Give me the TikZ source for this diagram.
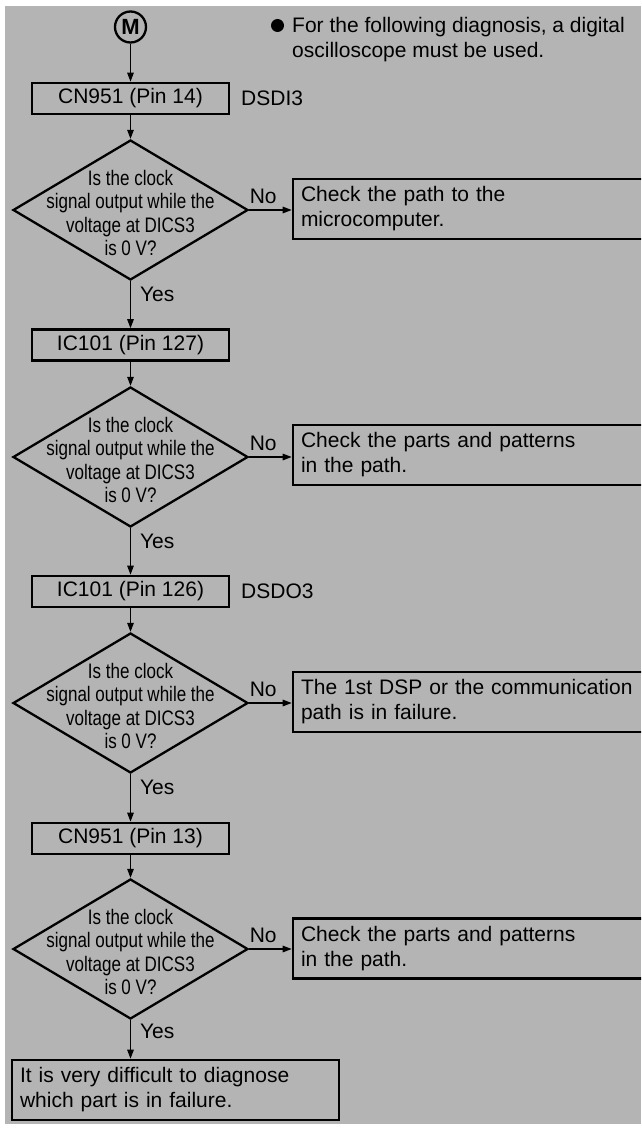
\documentclass[tikz,border=0pt]{standalone}
\usepackage{fontspec}
\setmainfont{Liberation Sans}
\newfontfamily\narrowfont[FakeStretch=0.81]{Liberation Sans}
\usetikzlibrary{shapes.geometric,arrows.meta}
\definecolor{bggray}{RGB}{180,180,180}
\begin{document}
\begin{tikzpicture}[x=1pt,y=-1pt,
  every node/.style={font=\fontsize{21}{25}\selectfont, text=black},
  box/.style={draw, line width=2.6pt, rectangle, minimum width=197pt, minimum height=31pt, inner sep=0pt},
  dia/.style={draw, line width=2.3pt, diamond, minimum width=235pt, minimum height=140pt, inner sep=0pt},
  dtext/.style={font=\fontsize{21}{23.3}\narrowfont, align=center, inner sep=0pt},
  rbox/.style={draw, line width=2.6pt, rectangle, minimum width=367pt, minimum height=60pt, text width=351pt, align=left, inner xsep=8pt, inner ysep=0pt},
  fbox/.style={draw, line width=2.6pt, rectangle, minimum width=327pt, minimum height=60pt, text width=311pt, align=left, inner xsep=8pt, inner ysep=0pt},
  arr/.style={line width=1.3pt, -{Triangle[length=9pt,width=6.5pt]}},
  lbl/.style={inner sep=0pt}
]
\useasboundingbox (0,0) rectangle (641,1129);
\fill[white] (0,0) rectangle (641,1129);
\fill[bggray] (5,6) rectangle (641,1124);
\clip (0,0) rectangle (641,1129);

% header
\node[circle, draw, line width=2.3pt, minimum size=31pt, inner sep=0pt, font=\bfseries\fontsize{22}{25}\selectfont] (m) at (130.5,27) {M};
\node[circle, fill=black, minimum size=13pt, inner sep=0pt] (bul) at (277.5,25.5) {};
\node[anchor=west, align=left, inner sep=0pt] (note) at (292,39.5) {For the following diagnosis, a digital\\oscilloscope must be used.};

% step 1
\node[box] (b1) at (130.5,98.5) {CN951 (Pin 14)};
\node[lbl, anchor=west] (s1) at (241,98.5) {DSDI3};
\node[dia] (d1) at (130.5,210) {};
\node[dtext] (t1) at (130.5,213) {Is the clock\\signal output while the\\voltage at DICS3\\is 0 V?};
\node[rbox] (r1) at (476.5,209) {Check the path to the\\microcomputer.};

% step 2
\node[box] (b2) at (130.5,345) {IC101 (Pin 127)};
\node[dia] (d2) at (130.5,457) {};
\node[dtext] (t2) at (130.5,460) {Is the clock\\signal output while the\\voltage at DICS3\\is 0 V?};
\node[rbox] (r2) at (476.5,455) {Check the parts and patterns\\in the path.};

% step 3
\node[box] (b3) at (130.5,591.5) {IC101 (Pin 126)};
\node[lbl, anchor=west] (s3) at (241,591.5) {DSDO3};
\node[dia] (d3) at (130.5,703) {};
\node[dtext] (t3) at (130.5,706) {Is the clock\\signal output while the\\voltage at DICS3\\is 0 V?};
\node[rbox] (r3) at (476.5,702) {The 1st DSP or the communication\\path is in failure.};

% step 4
\node[box] (b4) at (130.5,838.5) {CN951 (Pin 13)};
\node[dia] (d4) at (130.5,949) {};
\node[dtext] (t4) at (130.5,952) {Is the clock\\signal output while the\\voltage at DICS3\\is 0 V?};
\node[rbox] (r4) at (476.5,948.5) {Check the parts and patterns\\in the path.};

% final
\node[fbox] (f) at (175.5,1090) {It is very difficult to diagnose\\which part is in failure.};

% connectors
\draw[arr] (m) -- (b1);
\draw[arr] (b1) -- (d1);
\draw[arr] (d1.east) -- (d1.east -| r1.west) node[lbl, pos=0.33, anchor=south, yshift=6pt] {No};
\draw[arr] (d1) -- (b2) node[lbl, pos=0.28, anchor=west, xshift=9pt] {Yes};
\draw[arr] (b2) -- (d2);
\draw[arr] (d2.east) -- (d2.east -| r2.west) node[lbl, pos=0.33, anchor=south, yshift=6pt] {No};
\draw[arr] (d2) -- (b3) node[lbl, pos=0.28, anchor=west, xshift=9pt] {Yes};
\draw[arr] (b3) -- (d3);
\draw[arr] (d3.east) -- (d3.east -| r3.west) node[lbl, pos=0.33, anchor=south, yshift=6pt] {No};
\draw[arr] (d3) -- (b4) node[lbl, pos=0.28, anchor=west, xshift=9pt] {Yes};
\draw[arr] (b4) -- (d4);
\draw[arr] (d4.east) -- (d4.east -| r4.west) node[lbl, pos=0.33, anchor=south, yshift=6pt] {No};
\draw[arr] (d4.south) -- (d4.south |- f.north) node[lbl, pos=0.3, anchor=west, xshift=9pt] {Yes};
\end{tikzpicture}
\end{document}
